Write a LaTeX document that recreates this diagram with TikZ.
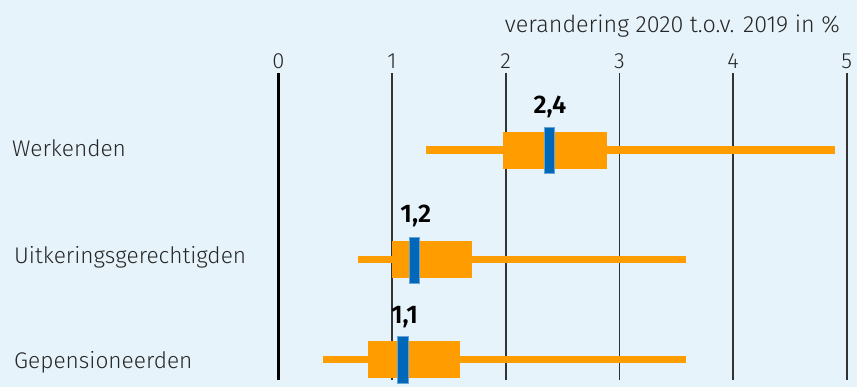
\documentclass[tikz,border=0pt]{standalone}
\usepackage{fontspec}
\IfFontExistsTF{Fira Sans Light}{%
  \setmainfont{Fira Sans Light}[BoldFont={Fira Sans SemiBold}]}{%
  \setmainfont{Fira Sans}}
\usepackage{tikz}
\definecolor{bgblue}{HTML}{E6F3FA}
\definecolor{boxorange}{HTML}{FF9C00}
\definecolor{medblue}{HTML}{0067B9}
\definecolor{gridgray}{HTML}{333333}
\tikzstyle{whisk}=[boxorange, line width=4pt]
\tikzstyle{box}=[fill=boxorange]
\tikzstyle{med}=[fill=medblue, draw=medblue!60, line width=0.4pt]
\tikzstyle{grid}=[gridgray, line width=0.9pt]
\tikzstyle{cat}=[anchor=west, font=\fontsize{12.9}{14}\selectfont, text=black!85]
\tikzstyle{tick}=[font=\fontsize{12.5}{14}\selectfont, text=black!85]
\tikzstyle{val}=[font=\bfseries\fontsize{14.5}{16}\selectfont]

\begin{document}
\begin{tikzpicture}[x=0.02cm, y=-0.02cm]
\fill[bgblue] (0,0) rectangle (857,387);
\useasboundingbox (0,0) rectangle (857,387);
\node[anchor=east, tick, font=\fontsize{13.3}{15}\selectfont] (title) at (846,26) {verandering 2020 t.o.v. 2019 in \%};

\begin{scope}[shift={(278.3,0)}, xscale=113.7]
% grid lines
\foreach \v in {1,...,5}{
  \node[tick] (t\v) at (\v,61) {\v};
  \draw[grid] (\v,73) -- (\v,380);
}
\node[tick] (t0) at (0,61) {0};
\draw[black, line width=1.8pt] (0,73) -- (0,380);

% Werkenden
\draw[whisk] (1.30,150) -- (4.90,150);
\fill[box] (1.98,132) rectangle (2.89,169);
\filldraw[med] (2.34,127) rectangle (2.43,173);
\node[val] (v1) at (2.39,107) {2,4};

% Uitkeringsgerechtigden
\draw[whisk] (0.70,259.5) -- (3.59,259.5);
\fill[box] (1.00,241) rectangle (1.70,278);
\filldraw[med] (1.15,237) rectangle (1.24,283);
\node[val] (v2) at (1.21,216) {1,2};

% Gepensioneerden
\draw[whisk] (0.39,359) -- (3.59,359);
\fill[box] (0.79,341) rectangle (1.60,378);
\filldraw[med] (1.05,336) rectangle (1.14,383);
\node[val] (v3) at (1.11,317) {1,1};
\end{scope}

\node[cat] (werk) at (6,148) {Werkenden};
\node[cat] (uitk) at (8,257) {Uitkeringsgerechtigden};
\node[cat] (gep) at (8,362) {Gepensioneerden};
\end{tikzpicture}
\end{document}
